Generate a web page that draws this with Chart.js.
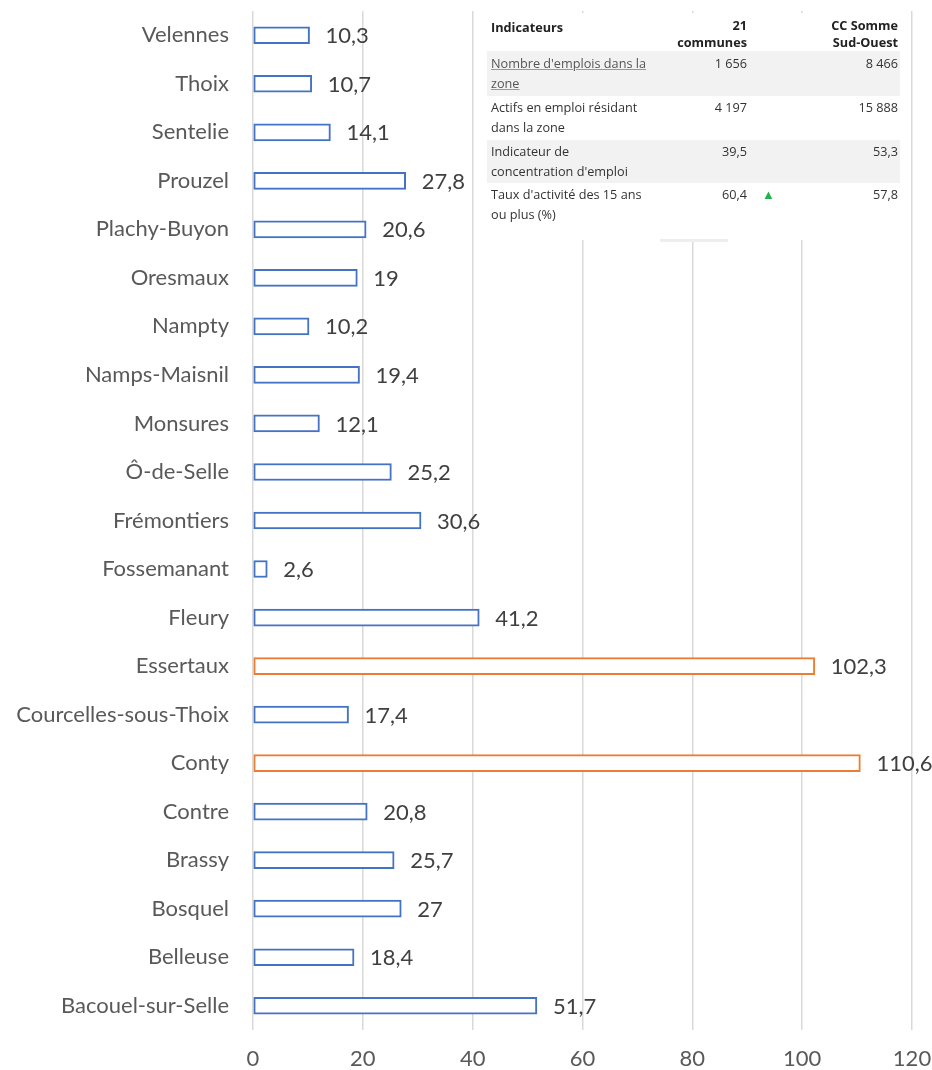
<!DOCTYPE html>
<html lang="fr">
<head>
<meta charset="utf-8">
<script src="https://cdn.jsdelivr.net/npm/chart.js@4.4.1/dist/chart.umd.min.js"></script>
<style>
  html, body { margin: 0; padding: 0; background: #fff; }
  #wrap { position: relative; width: 932px; height: 1070px; }
  #c { position: absolute; left: 0; top: 0; }
  #tbl {
    position: absolute; left: 480px; top: 13px; width: 428px; height: 227px;
    background: #fff; font-family: "Open Sans", sans-serif; font-size: 12.7px; color: #333;
  }
  #tbl table { position: absolute; left: 7px; top: 0; width: 413px; border-collapse: collapse; }
  #tbl td, #tbl th { padding: 0; vertical-align: top; line-height: 19.5px; }
  #tbl th { font-weight: 700; line-height: 17px; padding-top: 4px; height: 34px; color: #222; }
  #tbl th.l { padding-top: 6px; height: 32px; }
  #tbl tr.g td { background: #f2f2f2; }
  #tbl td.l, #tbl th.l { text-align: left; padding-left: 4px; width: 171px; white-space: nowrap; }
  #tbl td.n, #tbl th.n { text-align: right; width: 85px; }
  #tbl td.t { width: 43px; padding-left: 15px; box-sizing: border-box; }
  #tbl td.r, #tbl th.r { text-align: right; padding-right: 2px; }
  #tbl tr.r1 td { height: 42px; padding-top: 3px; }
  #tbl tr.r2 td { height: 42px; padding-top: 2px; }
  #tbl tr.r3 td { height: 41px; padding-top: 2px; }
  #tbl tr.r4 td { height: 40px; padding-top: 2px; }
  #tbl a { color: #555; text-decoration: underline; text-decoration-color: #999; }
  .tri { color: #22b14c; font-size: 13px; }
  #scroll { position: absolute; left: 660px; top: 239px; width: 68px; height: 3px; background: #eeeeee; }
</style>
</head>
<body>
<div id="wrap">
  <canvas id="c" width="932" height="1070"></canvas>
  <div id="tbl">
    <table>
      <tr><th class="l">Indicateurs</th><th class="n">21<br>communes</th><th></th><th class="r">CC Somme<br>Sud-Ouest</th></tr>
      <tr class="g r1"><td class="l"><a>Nombre d'emplois dans la<br>zone</a></td><td class="n">1 656</td><td class="t"></td><td class="r">8 466</td></tr>
      <tr class="r2"><td class="l">Actifs en emploi résidant<br>dans la zone</td><td class="n">4 197</td><td class="t"></td><td class="r">15 888</td></tr>
      <tr class="g r3"><td class="l">Indicateur de<br>concentration d'emploi</td><td class="n">39,5</td><td class="t"></td><td class="r">53,3</td></tr>
      <tr class="r4"><td class="l">Taux d'activité des 15 ans<br>ou plus (%)</td><td class="n">60,4</td><td class="t"><span class="tri">▲</span></td><td class="r">57,8</td></tr>
    </table>
  </div>
  <div id="scroll"></div>
</div>
<script>
const communes = [
  "Velennes", "Thoix", "Sentelie", "Prouzel", "Plachy-Buyon", "Oresmaux", "Nampty",
  "Namps-Maisnil", "Monsures", "Ô-de-Selle", "Frémontiers", "Fossemanant", "Fleury",
  "Essertaux", "Courcelles-sous-Thoix", "Conty", "Contre", "Brassy", "Bosquel",
  "Belleuse", "Bacouel-sur-Selle"
];
const valeurs = [
  10.3, 10.7, 14.1, 27.8, 20.6, 19, 10.2,
  19.4, 12.1, 25.2, 30.6, 2.6, 41.2,
  102.3, 17.4, 110.6, 20.8, 25.7, 27,
  18.4, 51.7
];
const communesMisesEnAvant = ["Essertaux", "Conty"];
const xTicks = [0, 20, 40, 60, 80, 100, 120];

const BLUE = "#4472C4", ORANGE = "#ED7D31";
const fmt = v => String(v).replace(".", ",");

const dataLabels = {
  id: "dataLabels",
  afterDatasetsDraw(chart) {
    const ctx = chart.ctx;
    const meta = chart.getDatasetMeta(0);
    ctx.save();
    ctx.font = "22px Lato";
    ctx.fillStyle = "#404040";
    ctx.textAlign = "left";
    ctx.textBaseline = "middle";
    meta.data.forEach((bar, i) => {
      ctx.fillText(fmt(valeurs[i]), bar.x + 16, bar.y + 1);
    });
    ctx.restore();
  }
};

new Chart(document.getElementById("c"), {
  type: "bar",
  data: {
    labels: communes,
    datasets: [{
      data: valeurs,
      backgroundColor: "#ffffff",
      borderColor: communes.map(c => communesMisesEnAvant.includes(c) ? ORANGE : BLUE),
      borderWidth: 2,
      borderSkipped: false,
      barThickness: 17
    }]
  },
  options: {
    indexAxis: "y",
    responsive: false,
    animation: false,
    devicePixelRatio: 1,
    layout: { padding: { left: 0, right: 20, top: 11, bottom: 0 } },
    plugins: { legend: { display: false }, tooltip: { enabled: false } },
    scales: {
      x: {
        min: 0, max: 120,
        afterBuildTicks: s => { s.ticks = xTicks.map(v => ({ value: v })); },
        afterFit: s => { s.height = 40; s.paddingLeft = 0; s.paddingRight = 0; },
        grid: { color: "#d9d9d9", lineWidth: 1.5, drawTicks: false },
        border: { display: false },
        ticks: { padding: 16, color: "#595959", font: { family: "Lato", size: 22 } }
      },
      y: {
        afterFit: s => { s.width = 253; s.paddingTop = 0; s.paddingBottom = 0; },
        grid: { display: false, drawTicks: false },
        border: { display: false },
        ticks: { padding: 24, color: "#595959", font: { family: "Lato", size: 22 } }
      }
    }
  },
  plugins: [dataLabels]
});
</script>
</body>
</html>
